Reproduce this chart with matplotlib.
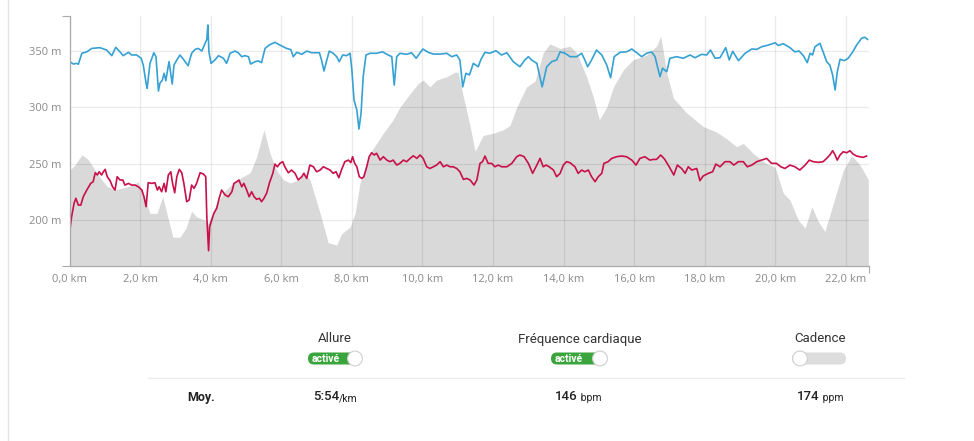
import matplotlib
matplotlib.use("Agg")
import matplotlib.pyplot as plt
from matplotlib.patches import FancyBboxPatch, Circle

plt.rcParams['font.family'] = ['Open Sans', 'DejaVu Sans']

# altitude profile (grey area), km / m
elev_km = [0.00, 0.16, 0.35, 0.52, 0.67, 0.86, 1.06, 1.29, 1.57, 1.80, 1.94, 2.11, 2.28, 2.48,
           2.64, 2.79, 2.93, 3.13, 3.30, 3.46, 3.60, 3.84, 3.92, 4.17, 4.41, 4.64, 4.88, 5.12,
           5.30, 5.51, 5.68, 5.87, 6.05, 6.25, 6.53, 6.62, 6.81, 7.10, 7.33, 7.57, 7.71, 7.95,
           8.09, 8.23, 8.51, 8.89, 9.17, 9.36, 9.65, 9.88, 10.02, 10.21, 10.40, 10.69, 10.92,
           11.01, 11.16, 11.35, 11.49, 11.72, 12.01, 12.29, 12.48, 12.67, 12.95, 13.19, 13.42,
           13.61, 13.90, 14.18, 14.37, 14.65, 14.84, 15.01, 15.22, 15.41, 15.69, 15.97, 16.35,
           16.63, 16.75, 16.92, 17.11, 17.48, 17.95, 18.33, 18.62, 18.90, 19.09, 19.37, 19.75,
           19.99, 20.22, 20.41, 20.65, 20.84, 21.03, 21.21, 21.40, 21.64, 21.92, 22.16, 22.39,
           22.63]
elev_m = [244, 249, 258, 254, 247, 238, 230, 227, 229, 231, 234, 222, 206, 206,
          221, 202, 185, 185, 193, 208, 203, 200, 197, 215, 226, 233, 238, 242,
          256, 280, 259, 244, 236, 233, 236, 243, 236, 206, 180, 178, 188, 194,
          206, 233, 259, 277, 289, 300, 312, 321, 324, 318, 324, 327, 331,
          331, 309, 283, 261, 275, 277, 280, 284, 300, 318, 323, 348,
          356, 352, 354, 348, 327, 309, 289, 300, 318, 333, 342, 346,
          354, 363, 330, 308, 295, 283, 278, 272, 265, 268, 259, 250,
          247, 224, 218, 200, 193, 212, 199, 190, 215, 244, 257, 249,
          236]

# pace curve (blue), read on the chart scale
pace_km = [0.01, 0.11, 0.20, 0.25, 0.35, 0.49, 0.63, 0.86, 1.05, 1.20, 1.31, 1.43, 1.52, 1.67,
           1.76, 1.90, 2.03, 2.09, 2.17, 2.20, 2.28, 2.39, 2.45, 2.52, 2.56, 2.63, 2.68, 2.73,
           2.77, 2.82, 2.88, 2.91, 2.96, 3.04, 3.13, 3.22, 3.36, 3.46, 3.56, 3.65, 3.75, 3.84,
           3.89, 3.92, 3.95, 4.01, 4.12, 4.22, 4.36, 4.45, 4.55, 4.69, 4.78, 4.88, 4.97, 5.07,
           5.13, 5.26, 5.35, 5.44, 5.54, 5.66, 5.82, 5.96, 6.15, 6.27, 6.34, 6.44, 6.58, 6.72,
           6.86, 7.08, 7.14, 7.21, 7.29, 7.36, 7.47, 7.57, 7.64, 7.74, 7.85, 7.95, 8.00, 8.06,
           8.10, 8.14, 8.20, 8.26, 8.32, 8.40, 8.51, 8.70, 8.87, 8.99, 9.13, 9.20, 9.27, 9.36,
           9.55, 9.69, 9.82, 10.01, 10.16, 10.31, 10.50, 10.69, 10.83, 10.97, 11.06, 11.14,
           11.23, 11.33, 11.44, 11.58, 11.65, 11.77, 11.91, 12.08, 12.24, 12.39, 12.57, 12.76,
           12.90, 13.00, 13.09, 13.24, 13.39, 13.52, 13.66, 13.80, 13.90, 14.04, 14.18, 14.37,
           14.51, 14.60, 14.68, 14.79, 14.93, 15.08, 15.22, 15.33, 15.43, 15.60, 15.78, 15.93,
           16.07, 16.21, 16.35, 16.49, 16.59, 16.66, 16.73, 16.80, 16.92, 17.01, 17.20, 17.39,
           17.58, 17.72, 17.91, 18.05, 18.16, 18.29, 18.43, 18.59, 18.69, 18.79, 18.95, 19.14,
           19.33, 19.47, 19.61, 19.80, 19.99, 20.08, 20.22, 20.41, 20.55, 20.67, 20.79, 20.90,
           20.98, 21.05, 21.12, 21.26, 21.35, 21.45, 21.54, 21.62, 21.69, 21.75, 21.83, 21.95,
           22.06, 22.19, 22.30, 22.44, 22.53, 22.61]
pace_val = [340.3, 338.2, 338.8, 338.0, 347.7, 349.0, 352.0, 352.7, 350.6, 345.6, 353.0, 349.0,
            345.6, 348.6, 346.2, 346.2, 343.3, 337.3, 321.1, 316.7, 338.8, 348.2, 344.7, 314.3,
            321.1, 324.0, 330.0, 323.4, 331.4, 340.3, 327.0, 320.5, 337.3, 341.8, 346.2, 342.7,
            336.7, 347.7, 351.2, 352.0, 349.7, 356.5, 360.0, 372.7, 349.0, 338.8, 341.8, 345.6,
            343.3, 338.8, 347.7, 349.7, 348.2, 344.7, 345.6, 344.7, 338.2, 340.3, 341.0, 339.4,
            352.0, 355.0, 357.4, 355.0, 352.0, 351.0, 344.7, 348.6, 346.8, 349.7, 348.2, 348.2,
            341.8, 332.0, 341.8, 349.7, 347.7, 344.7, 340.3, 346.2, 345.6, 347.7, 332.9, 306.4,
            302.0, 297.5, 280.7, 294.6, 327.0, 346.2, 347.7, 347.7, 349.0, 346.8, 344.7, 319.6,
            344.7, 347.7, 346.8, 348.2, 343.3, 351.5, 348.6, 347.0, 347.0, 347.7, 344.7, 346.2,
            341.8, 318.0, 330.0, 328.5, 338.8, 335.8, 341.8, 348.6, 347.7, 350.0, 346.2, 348.2,
            340.3, 335.8, 341.8, 344.7, 341.8, 338.8, 318.0, 335.8, 340.3, 341.8, 349.0, 347.7,
            344.7, 344.7, 347.7, 341.8, 335.8, 341.8, 350.6, 346.2, 337.3, 326.1, 344.7, 348.6,
            349.0, 351.5, 348.2, 344.7, 347.7, 349.0, 344.7, 335.4, 327.0, 334.5, 331.4, 343.3,
            344.7, 343.3, 346.2, 343.8, 346.8, 346.2, 350.6, 343.3, 343.8, 352.7, 341.8, 349.5,
            341.2, 347.7, 351.5, 351.2, 353.5, 355.0, 357.0, 354.6, 356.2, 352.7, 349.0, 349.7,
            345.6, 339.4, 347.7, 346.2, 353.5, 356.5, 349.0, 340.3, 337.3, 328.5, 315.2, 331.0,
            342.4, 341.2, 343.3, 349.0, 355.0, 361.0, 361.9, 360.0]

# heart rate curve (red), read on the chart scale
hr_km = [0.01, 0.06, 0.13, 0.18, 0.25, 0.32, 0.39, 0.49, 0.60, 0.67, 0.73, 0.79, 0.84, 0.91,
         0.96, 1.01, 1.07, 1.15, 1.22, 1.29, 1.35, 1.43, 1.51, 1.57, 1.67, 1.76, 1.86, 1.95,
         2.05, 2.11, 2.17, 2.23, 2.33, 2.42, 2.49, 2.54, 2.61, 2.68, 2.73, 2.80, 2.87, 2.92,
         2.98, 3.04, 3.11, 3.18, 3.24, 3.32, 3.39, 3.46, 3.53, 3.60, 3.70, 3.79, 3.86, 3.89,
         3.92, 3.94, 3.97, 4.03, 4.09, 4.17, 4.24, 4.31, 4.41, 4.50, 4.60, 4.66, 4.74, 4.80,
         4.88, 4.94, 5.02, 5.09, 5.16, 5.23, 5.30, 5.38, 5.44, 5.51, 5.59, 5.66, 5.76, 5.82,
         5.89, 5.96, 6.04, 6.10, 6.20, 6.29, 6.39, 6.48, 6.58, 6.64, 6.72, 6.81, 6.91, 7.00,
         7.10, 7.19, 7.29, 7.38, 7.47, 7.55, 7.63, 7.71, 7.80, 7.90, 7.97, 8.02, 8.08, 8.14,
         8.21, 8.28, 8.34, 8.42, 8.49, 8.56, 8.63, 8.70, 8.80, 8.89, 8.99, 9.08, 9.17, 9.27,
         9.36, 9.46, 9.55, 9.65, 9.74, 9.84, 9.93, 10.02, 10.12, 10.21, 10.31, 10.40, 10.50,
         10.59, 10.69, 10.78, 10.87, 10.97, 11.06, 11.16, 11.25, 11.35, 11.46, 11.54, 11.63,
         11.70, 11.77, 11.86, 11.96, 12.05, 12.15, 12.24, 12.39, 12.53, 12.67, 12.76, 12.88,
         13.00, 13.12, 13.24, 13.33, 13.42, 13.50, 13.59, 13.71, 13.80, 13.90, 13.99, 14.08,
         14.18, 14.32, 14.41, 14.51, 14.60, 14.70, 14.79, 14.89, 14.98, 15.08, 15.14, 15.26,
         15.36, 15.50, 15.64, 15.78, 15.93, 16.05, 16.16, 16.30, 16.44, 16.54, 16.63, 16.75,
         16.86, 16.99, 17.12, 17.22, 17.34, 17.44, 17.53, 17.63, 17.77, 17.86, 17.95, 18.10,
         18.22, 18.31, 18.43, 18.57, 18.71, 18.82, 18.95, 19.09, 19.20, 19.33, 19.47, 19.61,
         19.75, 19.89, 20.03, 20.15, 20.27, 20.41, 20.55, 20.69, 20.84, 20.96, 21.07, 21.21,
         21.35, 21.45, 21.54, 21.62, 21.69, 21.75, 21.83, 21.92, 22.02, 22.11, 22.20, 22.30,
         22.39, 22.48, 22.58]
hr_val = [191.3, 203.1, 215.0, 219.4, 213.4, 213.4, 220.8, 226.7, 232.6, 234.1, 242.0, 240.0,
          242.9, 240.0, 242.9, 245.0, 238.5, 235.0, 229.6, 226.7, 238.5, 235.6, 235.6, 231.1,
          232.6, 231.1, 231.1, 229.6, 226.7, 220.8, 212.0, 233.2, 232.6, 233.2, 226.7, 229.6,
          225.2, 232.6, 225.2, 240.0, 242.9, 232.6, 224.3, 238.5, 245.0, 242.0, 232.6, 216.4,
          217.9, 231.1, 228.2, 232.6, 242.0, 241.0, 238.5, 203.1, 185.4, 173.0, 194.2, 200.2,
          206.1, 210.5, 219.4, 226.7, 222.3, 220.8, 225.2, 232.6, 234.1, 235.6, 229.6, 232.6,
          226.7, 220.8, 225.2, 220.8, 218.5, 219.4, 216.4, 219.4, 224.3, 232.6, 241.5, 249.7,
          247.3, 250.3, 251.8, 247.3, 242.0, 244.4, 241.5, 235.6, 238.5, 241.5, 237.0, 248.8,
          247.3, 242.9, 244.4, 247.3, 245.8, 244.4, 241.5, 242.9, 237.6, 244.9, 251.8, 253.2,
          251.0, 256.2, 250.3, 247.3, 238.5, 237.0, 238.5, 247.3, 256.2, 259.7, 257.7, 259.2,
          253.2, 256.2, 253.2, 251.8, 253.2, 248.8, 250.3, 253.2, 251.8, 254.7, 257.0, 254.7,
          257.7, 254.7, 247.3, 245.8, 247.3, 248.8, 251.8, 247.3, 248.8, 247.3, 247.3, 245.8,
          242.9, 236.1, 237.0, 235.6, 231.1, 235.6, 250.3, 251.8, 256.8, 250.3, 250.3, 247.3,
          248.8, 247.3, 247.3, 250.3, 256.2, 257.7, 256.2, 250.3, 241.5, 248.8, 254.7, 247.3,
          248.8, 247.3, 244.4, 238.5, 241.5, 248.8, 251.8, 250.9, 247.3, 241.5, 244.4, 242.9,
          244.4, 238.5, 234.1, 238.5, 241.5, 250.3, 251.8, 254.7, 256.2, 256.8, 256.2, 253.2,
          248.8, 254.7, 256.2, 253.2, 253.8, 253.8, 257.7, 254.0, 247.3, 240.0, 248.8, 245.8,
          241.5, 247.3, 244.4, 245.8, 235.0, 239.1, 241.5, 242.9, 249.7, 247.3, 251.8, 251.8,
          248.8, 251.8, 251.8, 247.3, 248.8, 251.8, 253.2, 254.7, 250.3, 250.3, 247.3, 245.8,
          248.8, 247.3, 244.4, 248.8, 253.2, 251.8, 251.2, 251.8, 254.7, 257.7, 261.5, 257.7,
          253.2, 257.7, 260.6, 259.7, 261.5, 258.5, 256.8, 256.2, 255.6, 256.8]

x_ticks = [0, 2, 4, 6, 8, 10, 12, 14, 16, 18, 20, 22]
y_ticks = [200, 250, 300, 350]
x_max = 22.65
y_min, y_max = 159.5, 380.7

# summary row
toggle_names = ["Allure", "Fréquence cardiaque", "Cadence"]
toggle_on = [True, True, False]
avg_numbers = ["5:54", "146", "174"]
avg_units = ["/km", " bpm", " ppm"]

W, H = 974, 441
fig = plt.figure(figsize=(W / 100, H / 100), dpi=100)

# overlay in pixel coordinates for the page elements
ui = fig.add_axes([0, 0, 1, 1])
ui.set_xlim(0, W)
ui.set_ylim(H, 0)
ui.axis("off")
ui.plot([8, 8], [0, H], color="#e2e2e2", lw=1)
ui.plot([148, 904], [378, 378], color="#ebebeb", lw=1)

ui_font = ["Roboto", "DejaVu Sans"]
col_x = [335, 580, 820]
toggle_x = [(308, 363), (551, 608), (792, 847)]
for name, on, cx, (x0, x1) in zip(toggle_names, toggle_on, col_x, toggle_x):
    ui.text(cx, 339, name, ha="center", va="center", fontsize=9.5,
            family=ui_font, color="#333333")
    face = "#3aa53c" if on else "#dddddd"
    ui.add_patch(FancyBboxPatch((x0, 352.5), x1 - x0 - 1, 12,
                                boxstyle="round,pad=0,rounding_size=6",
                                fc=face, ec="none"))
    knob_x = x1 - 8 if on else x0 + 8
    ui.add_patch(Circle((knob_x, 358.5), 7.4, fc="white", ec="#cfcfcf", lw=0.8, zorder=3))
    if on:
        ui.text(x0 + 18, 358.5, "activé", ha="center", va="center", fontsize=7.5,
                fontweight="bold", color="white", family=ui_font)

ui.text(201, 397, "Moy.", ha="center", va="center", fontsize=9, fontweight="bold",
        family=ui_font, color="#222222")
split_x = [339, 578, 820]
for num, unit, sx in zip(avg_numbers, avg_units, split_x):
    ui.text(sx, 397, num, ha="right", va="center", fontsize=9.5, fontweight="medium",
            family=ui_font, color="#222222")
    ui.text(sx, 398, unit, ha="left", va="center", fontsize=7.5,
            family=ui_font, color="#222222")

# main chart
ax = fig.add_axes([69.5 / W, 1 - 266 / H, (869 - 69.5) / W, (266 - 16) / H])
ax.patch.set_alpha(0)
ax.fill_between(elev_km, elev_m, y_min, color="#d9d9d9", lw=0, zorder=1)
ax.plot(hr_km, hr_val, color="#c8104a", lw=1.2, zorder=3)
ax.plot(pace_km, pace_val, color="#35a2d3", lw=1.2, zorder=4)

ax.set_xlim(0, x_max)
ax.set_ylim(y_min, y_max)
ax.set_xticks(x_ticks)
ax.set_xticklabels([f"{t:.1f}".replace(".", ",") + " km" for t in x_ticks])
ax.set_yticks(y_ticks)
ax.set_yticklabels([f"{t} m" for t in y_ticks])
ax.set_xticks([0, x_max], minor=True)
ax.set_yticks([y_min, y_max], minor=True)
ax.tick_params(axis="both", which="major", length=0, labelsize=8, labelcolor="#8a8a8a")
ax.tick_params(axis="x", which="major", pad=6)
ax.tick_params(axis="y", which="major", pad=6)
ax.tick_params(axis="x", which="minor", length=5, color="#aaaaaa", width=0.8)
ax.tick_params(axis="y", which="minor", length=6, color="#aaaaaa", width=0.8)

ax.grid(True, color="black", alpha=0.08, lw=0.9, zorder=2)
ax.set_axisbelow(False)
for line in ax.get_xgridlines() + ax.get_ygridlines():
    line.set_zorder(2)

for side in ["top", "right"]:
    ax.spines[side].set_visible(False)
for side in ["left", "bottom"]:
    ax.spines[side].set_color("#aaaaaa")
    ax.spines[side].set_linewidth(0.9)
    ax.spines[side].set_zorder(5)

fig.savefig("out.png", dpi=100)
